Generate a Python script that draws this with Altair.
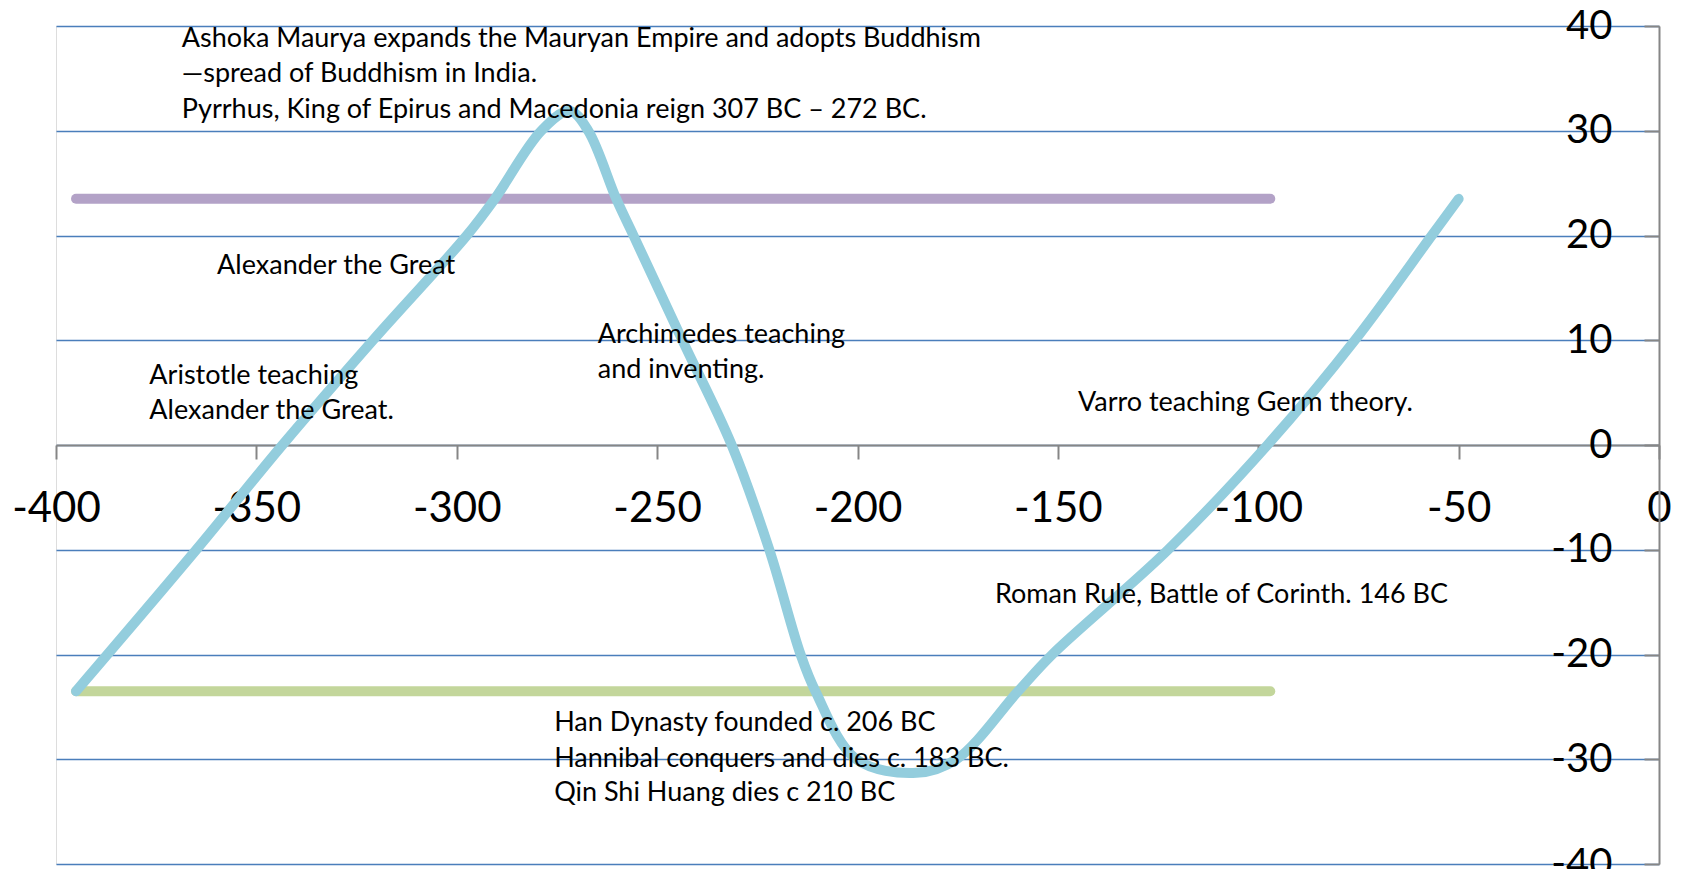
import altair as alt
import pandas as pd

# ---- data ----
curve_x = [-395, -365, -343.5, -320.9, -297.5, -290.5, -278.9, -271.8, -267.2,
           -260.2, -255.9, -243.7, -231.4, -222, -214.2, -210.5, -200.3, -185.3,
           -175.3, -159.9, -151.4, -122.5, -97.7, -75.9, -56.7, -50]
curve_y = [-23.5, -10, 0, 10, 20, 23.5, 30, 31.9, 30,
           23.5, 20, 10, 0, -10, -20, -23.5, -30, -31.3,
           -30, -23.5, -20, -10, 0, 10, 20, 23.5]

purple_x = [-395, -97]
purple_y = [23.5, 23.5]
green_x = [-395, -97]
green_y = [-23.5, -23.5]

note_text = [
    "Ashoka Maurya expands the Mauryan Empire and adopts Buddhism",
    "\u2014spread of Buddhism in India.",
    "Pyrrhus, King of Epirus and Macedonia reign 307 BC \u2013 272 BC.",
    "Alexander the Great",
    "Archimedes teaching",
    "and inventing.",
    "Aristotle teaching",
    "Alexander the Great.",
    "Varro teaching Germ theory.",
    "Roman Rule, Battle of Corinth. 146 BC",
    "Han Dynasty founded c. 206 BC",
    "Hannibal conquers and dies c. 183 BC.",
    "Qin Shi Huang dies c 210 BC",
]
note_x = [-368.6, -368.6, -368.6, -359.8, -264.8, -264.8, -376.7, -376.7,
          -145.0, -165.7, -275.7, -275.7, -275.7]
note_y = [38.0, 34.67, 31.17, 16.3, 9.7, 6.42, 5.82, 2.45,
          3.27, -15.05, -27.35, -30.7, -34.0]

x_ticks = [-400, -350, -300, -250, -200, -150, -100, -50, 0]
y_ticks = [-40, -30, -20, -10, 0, 10, 20, 30, 40]

W, H = 1603, 838
FONT = "Lato"

curve_df = pd.DataFrame({"x": curve_x, "y": curve_y, "o": list(range(len(curve_x)))})
purple_df = pd.DataFrame({"x": purple_x, "y": purple_y})
green_df = pd.DataFrame({"x": green_x, "y": green_y})
notes_df = pd.DataFrame({"t": note_text, "x": note_x, "y": note_y})

xscale = alt.Scale(domain=[-400, 0], nice=False, zero=False)
yscale = alt.Scale(domain=[-40, 40], nice=False, zero=False)

xaxis = alt.Axis(
    orient="bottom", offset=-H / 2, values=x_ticks, title=None, grid=False,
    domainColor="#868686", domainWidth=2, tickColor="#868686", tickWidth=2,
    tickSize=14, labelFont=FONT, labelFontSize=42, labelColor="black",
    labelPadding=29, labelOverlap=False, labelFlush=False, labelBound=False,
    labelExpr="toString(datum.value)",
)
yaxis = alt.Axis(
    orient="left", offset=-W, values=y_ticks, title=None, grid=True,
    gridColor="#4A7EBB", gridWidth=1.7,
    domainColor="#868686", domainWidth=2, tickColor="#868686", tickWidth=2,
    tickSize=15, labelFont=FONT, labelFontSize=40, labelColor="black",
    labelPadding=32, labelOverlap=False, labelFlush=False, labelBound=False,
    labelBaseline="middle", labelExpr="toString(datum.value)",
)

base_x = alt.X("x:Q", scale=xscale, axis=xaxis)
base_y = alt.Y("y:Q", scale=yscale, axis=yaxis)

purple = alt.Chart(purple_df).mark_line(
    color="#B3A2C7", strokeWidth=10, strokeCap="round"
).encode(x=base_x, y=base_y)

green = alt.Chart(green_df).mark_line(
    color="#C3D69B", strokeWidth=10, strokeCap="round"
).encode(x=alt.X("x:Q", scale=xscale), y=alt.Y("y:Q", scale=yscale))

curve = alt.Chart(curve_df).mark_line(
    color="#93CDDD", strokeWidth=10, strokeCap="round", strokeJoin="round",
    interpolate="catmull-rom"
).encode(x=alt.X("x:Q", scale=xscale), y=alt.Y("y:Q", scale=yscale), order="o:Q")

notes = alt.Chart(notes_df).mark_text(
    align="left", baseline="alphabetic", font=FONT, fontSize=27, color="black"
).encode(x=alt.X("x:Q", scale=xscale), y=alt.Y("y:Q", scale=yscale), text="t:N")

chart = alt.layer(purple, green, curve, notes).properties(
    width=W, height=H,
    padding={"left": 48, "top": 18, "right": 14, "bottom": 5},
    autosize=alt.AutoSizeParams(type="none"),
).configure_view(stroke=None).configure(background="white")

chart.save("out.html", embed_options={"renderer": "svg", "actions": False})
